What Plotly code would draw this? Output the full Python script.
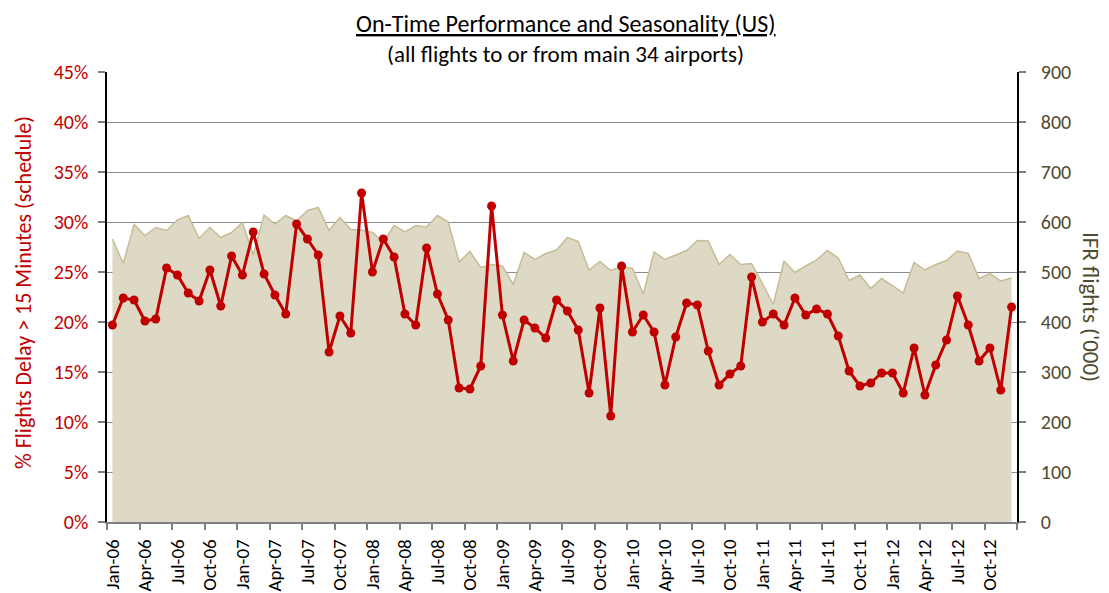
import plotly.graph_objects as go

month_names = ["Jan", "Feb", "Mar", "Apr", "May", "Jun", "Jul", "Aug", "Sep", "Oct", "Nov", "Dec"]
years = ["06", "07", "08", "09", "10", "11", "12"]
months = [f"{m}-{y}" for y in years for m in month_names]

delay_pct = [
    19.7, 22.4, 22.2, 20.1, 20.3, 25.4, 24.7, 22.9, 22.1, 25.2, 21.6, 26.6,
    24.7, 29.0, 24.8, 22.7, 20.8, 29.8, 28.3, 26.7, 17.0, 20.6, 18.9, 32.9,
    25.0, 28.3, 26.5, 20.8, 19.7, 27.4, 22.8, 20.2, 13.4, 13.3, 15.6, 31.6,
    20.7, 16.1, 20.2, 19.4, 18.4, 22.2, 21.1, 19.2, 12.9, 21.4, 10.6, 25.6,
    19.0, 20.7, 19.0, 13.7, 18.5, 21.9, 21.7, 17.1, 13.7, 14.8, 15.6, 24.5,
    20.0, 20.8, 19.7, 22.4, 20.7, 21.3, 20.8, 18.6, 15.1, 13.6, 13.9, 14.9,
    14.9, 12.9, 17.4, 12.7, 15.7, 18.2, 22.6, 19.7, 16.1, 17.4, 13.2, 21.5,
]

ifr_flights = [
    566, 517, 595, 573, 589, 583, 604, 613, 567, 589, 569, 579,
    599, 534, 614, 596, 613, 602, 623, 629, 583, 609, 585, 584,
    579, 559, 593, 580, 593, 590, 613, 600, 520, 541, 509, 515,
    512, 475, 539, 525, 537, 544, 569, 561, 504, 521, 503, 511,
    507, 456, 540, 525, 534, 543, 563, 562, 515, 535, 515, 517,
    477, 435, 522, 499, 512, 524, 543, 528, 483, 494, 467, 487,
    473, 458, 519, 504, 515, 523, 542, 537, 487, 497, 482, 488,
]

tick_labels = [
    "Jan-06", "Apr-06", "Jul-06", "Oct-06", "Jan-07", "Apr-07", "Jul-07", "Oct-07",
    "Jan-08", "Apr-08", "Jul-08", "Oct-08", "Jan-09", "Apr-09", "Jul-09", "Oct-09",
    "Jan-10", "Apr-10", "Jul-10", "Oct-10", "Jan-11", "Apr-11", "Jul-11", "Oct-11",
    "Jan-12", "Apr-12", "Jul-12", "Oct-12",
]
left_tick_vals = [0, 5, 10, 15, 20, 25, 30, 35, 40, 45]
left_tick_text = [f"{v}%" for v in left_tick_vals]
right_tick_vals = [0, 100, 200, 300, 400, 500, 600, 700, 800, 900]

x_idx = list(range(len(months)))
tick_pos = [months.index(t) for t in tick_labels]
boundary_pos = [p - 0.5 for p in tick_pos] + [len(months) - 0.5]

FONT = "Carlito, Lato, 'Open Sans', sans-serif"
RED = "#C00000"
OLIVE = "#4F4A30"

# page body has an 8px margin: plot area should land at x 107..1017, y 72..522
PL, PT, PW, PH = 107, 72, 910, 450


def px(x):
    return (x - PL) / PW


def py(y):
    return (PT + PH - y) / PH


fig = go.Figure()

fig.add_trace(go.Scatter(
    x=x_idx, y=ifr_flights, yaxis="y", mode="lines",
    line=dict(color="#C4BD97", width=1.5),
    fill="tozeroy", fillcolor="#DDD9C4",
    name="IFR flights", hoverinfo="skip",
))

fig.add_trace(go.Scatter(
    x=x_idx, y=delay_pct, yaxis="y2", mode="lines+markers",
    line=dict(color=RED, width=3),
    marker=dict(color=RED, size=9),
    name="% delay",
))

fig.update_layout(
    width=1101, height=585,
    margin=dict(l=PL - 8, r=1101 - (PL - 8) - PW, t=PT - 8, b=585 - (PT - 8) - PH),
    paper_bgcolor="white", plot_bgcolor="white",
    showlegend=False,
    font=dict(family=FONT, size=16, color="black"),
    xaxis=dict(
        range=[-0.5, len(months) - 0.5],
        tickmode="array", tickvals=tick_pos, ticktext=tick_labels,
        tickangle=-90, ticks="", showgrid=False, zeroline=False,
        showline=True, linecolor="#7F7F7F", linewidth=1.5,
        tickfont=dict(family=FONT, size=19, color="black"),
        ticklabelstandoff=8, automargin=False,
        minor=dict(tickvals=boundary_pos, ticks="outside", ticklen=6,
                   tickcolor="#7F7F7F", tickwidth=1.5, showgrid=False),
    ),
    yaxis=dict(
        side="right", range=[0, 900],
        tickmode="array", tickvals=right_tick_vals,
        ticks="outside", ticklen=7, tickcolor="#7F7F7F", tickwidth=1.5,
        showline=True, linecolor="black", linewidth=1.5,
        showgrid=True, gridcolor="#8C8C8C", gridwidth=1.2,
        zeroline=False, automargin=False,
        tickfont=dict(family=FONT, size=20, color=OLIVE),
        ticklabelstandoff=11,
    ),
    yaxis2=dict(
        side="left", overlaying="y", range=[0, 45],
        tickmode="array", tickvals=left_tick_vals, ticktext=left_tick_text,
        ticks="outside", ticklen=7, tickcolor="#7F7F7F", tickwidth=1.5,
        showline=True, linecolor="black", linewidth=1.5,
        showgrid=False, zeroline=False, automargin=False,
        tickfont=dict(family=FONT, size=20, color=RED),
        ticklabelstandoff=6,
    ),
    annotations=[
        dict(text="<u>On-Time Performance and Seasonality (US)</u>",
             xref="paper", yref="paper", x=px(566), y=py(24),
             showarrow=False, xanchor="center", yanchor="middle",
             font=dict(family=FONT, size=24, color="black")),
        dict(text="(all flights to or from main 34 airports)",
             xref="paper", yref="paper", x=px(565), y=py(54),
             showarrow=False, xanchor="center", yanchor="middle",
             font=dict(family=FONT, size=23, color="black")),
        dict(text="% Flights Delay > 15 Minutes (schedule)",
             xref="paper", yref="paper", x=px(23), y=py(293),
             showarrow=False, xanchor="center", yanchor="middle", textangle=-90,
             font=dict(family=FONT, size=22, color=RED)),
        dict(text="IFR flights ('000)",
             xref="paper", yref="paper", x=px(1091), y=py(307),
             showarrow=False, xanchor="center", yanchor="middle", textangle=90,
             font=dict(family=FONT, size=23, color=OLIVE)),
    ],
)

fig.write_html("out.html")
